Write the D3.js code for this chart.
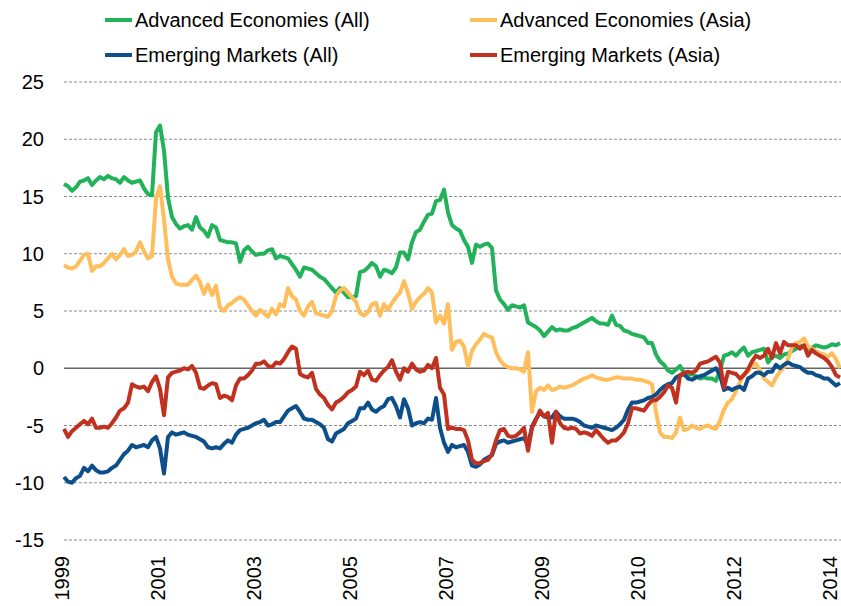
<!DOCTYPE html>
<html>
<head>
<meta charset="utf-8">
<script src="https://cdn.jsdelivr.net/npm/d3@7"></script>
<style>
    body { margin: 0; background: #fff; }
    text { font-family: "Liberation Sans", Arial, sans-serif; fill: #000; }
</style>
</head>
<body>
<div id="chart"></div>
<script>

// weekly-ish readings, one value every sample step
var advAll = [
    16.1, 15.9, 15.5, 15.8, 16.3, 16.4, 16.6, 16.0, 16.4, 16.7, 16.5, 16.8, 16.6, 16.5, 16.2, 16.7, 16.4, 16.2, 16.3, 16.4,
    15.7, 15.2, 15.1, 20.6, 21.2, 19.0, 14.9, 13.2, 12.6, 12.2, 12.4, 12.5, 12.1, 13.2, 12.3, 12.0, 11.5, 12.5, 12.3, 11.2,
    11.1, 11.0, 11.0, 10.9, 9.3, 10.3, 10.6, 10.2, 9.9, 10.0, 10.0, 10.3, 10.4, 9.6, 9.8, 9.7, 9.6, 9.1, 8.6, 8.0,
    8.8, 8.7, 8.6, 8.3, 8.0, 7.8, 7.4, 7.0, 6.6, 7.0, 6.6, 6.2, 6.2, 6.3, 8.4, 8.5, 8.8, 9.2, 8.9, 8.0,
    8.6, 8.5, 8.3, 8.8, 10.1, 10.1, 9.5, 11.0, 11.9, 12.1, 12.8, 13.4, 13.5, 14.6, 14.7, 15.6, 13.6, 12.5, 12.2, 12.0,
    11.2, 10.6, 9.2, 10.8, 10.6, 10.8, 10.9, 10.5, 6.8, 6.0, 5.6, 5.1, 5.5, 5.4, 5.3, 5.5, 4.0, 3.8, 3.6, 3.3,
    2.8, 3.2, 3.6, 3.3, 3.4, 3.3, 3.3, 3.5, 3.6, 3.8, 4.0, 4.2, 4.4, 4.1, 3.9, 3.9, 3.8, 4.6, 3.8, 3.7,
    3.3, 3.2, 3.0, 2.9, 2.8, 2.7, 2.2, 2.2, 1.2, 0.6, 0.3, -0.2, -0.4, -0.1, 0.2, -0.4, -0.6, -0.5, -0.7, -0.9,
    -0.8, -0.9, -0.9, -1.1, -0.2, 1.1, 1.2, 1.4, 1.1, 1.5, 1.8, 1.1, 1.4, 1.5, 1.6, 1.7, 0.5, 1.0, 1.1, 0.9,
    1.2, 1.3, 1.5, 1.7, 1.9, 2.0, 1.7, 1.8, 2.0, 1.9, 1.8, 1.9, 2.1, 2.0, 2.2
];

var advAsia = [
    9.0, 8.8, 8.7, 8.9, 9.4, 9.9, 10.0, 8.5, 8.9, 8.9, 9.2, 9.6, 10.0, 9.5, 9.9, 10.4, 9.8, 9.9, 10.2, 11.0,
    10.2, 9.6, 9.8, 14.8, 15.9, 13.0, 9.5, 8.0, 7.4, 7.3, 7.3, 7.3, 7.7, 8.1, 7.5, 6.5, 7.3, 6.4, 7.2, 5.3,
    5.0, 5.5, 5.7, 6.0, 6.2, 6.0, 5.5, 5.0, 4.6, 5.1, 4.8, 4.5, 5.2, 4.7, 5.6, 5.4, 7.0, 6.3, 6.0, 5.0,
    4.6, 5.4, 5.8, 4.8, 4.7, 4.6, 4.5, 5.0, 6.3, 6.8, 7.0, 6.6, 6.2, 5.8, 4.8, 4.6, 4.9, 5.6, 5.7, 4.6,
    5.6, 5.1, 5.7, 6.2, 6.6, 7.6, 6.6, 5.2, 5.8, 6.2, 6.5, 7.0, 6.6, 4.0, 4.6, 3.9, 5.6, 1.6, 2.3, 2.4,
    1.9, 0.2, 1.5, 2.1, 2.5, 3.0, 2.8, 2.7, 1.4, 0.7, 0.3, 0.1, 0.0, 0.0, -0.1, -0.3, 1.4, -3.8, -2.0, -1.7,
    -1.9, -1.5, -1.9, -1.8, -1.6, -1.7, -1.6, -1.5, -1.3, -1.1, -0.9, -0.8, -0.6, -0.8, -0.9, -1.0, -1.0, -0.9, -0.8, -0.8,
    -0.9, -0.9, -0.9, -1.0, -1.0, -1.1, -1.2, -1.4, -3.8, -5.6, -6.0, -6.0, -6.1, -5.6, -4.3, -5.4, -5.3, -5.0, -5.2, -5.3,
    -5.1, -5.0, -5.2, -5.3, -4.6, -3.6, -3.0, -2.7, -2.0, -1.2, -0.5, -0.3, 0.3, 0.4, -0.2, -0.9, -1.2, -1.5, -0.8, -0.3,
    0.1, 0.8, 1.9, 2.2, 2.3, 2.6, 1.9, 1.7, 1.5, 1.3, 1.2, 1.0, 1.3, 0.8, 0.0
];

var emAll = [
    -9.5, -9.9, -10.0, -9.6, -9.4, -8.7, -9.0, -8.5, -8.9, -9.1, -9.1, -9.0, -8.7, -8.5, -8.0, -7.5, -7.2, -6.7, -6.9, -6.8,
    -6.7, -6.9, -6.3, -6.0, -7.0, -9.2, -6.0, -5.6, -5.8, -5.7, -5.6, -5.8, -5.9, -6.0, -6.2, -6.4, -6.9, -7.0, -6.9, -7.0,
    -6.6, -6.3, -6.5, -5.8, -5.4, -5.3, -5.2, -5.0, -4.8, -4.7, -4.5, -5.0, -4.9, -4.7, -4.7, -4.2, -3.7, -3.5, -3.3, -3.8,
    -4.4, -4.5, -4.5, -4.7, -4.9, -5.2, -6.2, -6.4, -5.7, -5.5, -5.3, -4.8, -4.6, -4.4, -3.5, -3.5, -3.0, -3.6, -3.8, -3.5,
    -3.3, -2.7, -2.6, -3.3, -4.3, -2.7, -3.5, -5.0, -4.8, -4.7, -4.8, -4.4, -4.5, -2.6, -5.2, -6.5, -7.3, -6.7, -6.9, -6.8,
    -6.7, -7.3, -8.5, -8.6, -8.4, -8.0, -7.8, -7.6, -6.6, -6.4, -6.3, -6.5, -6.4, -6.3, -6.2, -6.1, -6.7, -5.1, -4.4, -3.9,
    -4.2, -4.3, -4.3, -3.8, -4.2, -4.4, -4.4, -4.4, -4.5, -4.7, -5.0, -5.1, -5.2, -5.0, -5.1, -5.2, -5.3, -5.4, -5.2, -4.9,
    -4.5, -3.6, -3.0, -3.0, -2.9, -2.8, -2.6, -2.5, -2.3, -1.9, -1.6, -1.4, -1.3, -0.8, -0.6, -0.5, -0.9, -1.0, -0.8, -0.7,
    -0.6, -0.4, -0.2, 0.0, -0.6, -1.9, -1.7, -1.9, -1.7, -1.6, -1.9, -0.9, -0.7, -0.4, -0.4, -0.6, -0.3, -0.3, 0.3, 0.0,
    0.3, 0.5, 0.3, 0.2, 0.1, -0.2, -0.4, -0.4, -0.6, -0.7, -0.9, -0.9, -1.2, -1.5, -1.3
];

var emAsia = [
    -5.3, -6.0, -5.5, -5.2, -4.9, -4.6, -4.9, -4.4, -5.2, -5.2, -5.1, -5.2, -4.8, -4.3, -3.7, -3.5, -3.0, -1.4, -1.6, -1.7,
    -1.6, -2.0, -1.2, -0.7, -1.8, -4.1, -0.8, -0.4, -0.3, -0.2, 0.0, -0.1, 0.2, -0.4, -1.7, -1.8, -1.5, -1.3, -1.4, -2.6,
    -2.4, -2.5, -2.8, -1.5, -0.9, -0.9, -0.6, -0.2, 0.4, 0.4, 0.6, 0.2, 0.1, 0.5, 0.4, 0.8, 1.4, 1.9, 1.7, -0.5,
    -0.7, -0.8, -0.4, -1.8, -2.3, -2.6, -3.2, -3.6, -3.0, -2.8, -2.5, -2.1, -1.9, -1.6, -0.3, -0.6, -0.2, -1.0, -1.1, -0.6,
    -0.2, 0.1, 0.7, -0.3, -1.0, 0.0, -0.3, 0.4, -0.1, -0.3, -0.2, 0.3, 0.0, 0.9, -1.7, -2.3, -5.3, -5.2, -5.3, -5.3,
    -5.4, -6.3, -8.0, -8.3, -8.3, -8.1, -8.0, -7.5, -6.3, -5.4, -5.3, -5.9, -6.0, -5.9, -5.6, -5.2, -7.2, -5.2, -4.5, -3.7,
    -4.2, -3.9, -6.5, -3.8, -4.8, -5.2, -5.3, -5.2, -5.3, -5.7, -5.6, -5.7, -5.9, -5.4, -5.8, -6.2, -6.5, -6.3, -6.3, -6.0,
    -5.6, -4.8, -3.5, -3.5, -3.6, -3.7, -3.2, -2.8, -2.8, -2.5, -2.1, -1.5, -1.7, -3.0, -0.6, -0.4, -0.3, -0.4, -0.2, 0.4,
    0.5, 0.6, 0.8, 1.0, 0.5, -1.7, -0.3, -0.4, -0.5, -0.9, -0.6, -0.1, 0.6, 1.1, 0.9, 1.1, 1.7, 0.9, 2.2, 1.3,
    2.3, 2.0, 2.0, 2.0, 1.7, 2.0, 1.1, 1.6, 1.3, 1.1, 0.9, 0.6, 0.1, -0.6, -0.8
];

var seriesNames = ["Advanced Economies (All)", "Advanced Economies (Asia)", "Emerging Markets (All)", "Emerging Markets (Asia)"];
var seriesColors = ["#21b25a", "#ffbe5c", "#0c4f8b", "#c1311f"];

var yTicks = [-15, -10, -5, 0, 5, 10, 15, 20, 25];
var xTickLabels = ["1999", "2001", "2003", "2005", "2007", "2009", "2010", "2012", "2014"];
var xTickIndex = [0, 24, 48, 72, 96, 120, 144, 168, 192];

var width = 841, height = 606;

var svg = d3.select("#chart")
    .append("svg")
    .attr("width", width)
    .attr("height", height);

svg.append("rect").attr("width", width).attr("height", height).attr("fill", "#fff");

var x = d3.scaleLinear()
    .domain([0, advAll.length - 1])
    .range([64, 840]);

var y = d3.scaleLinear()
    .domain([-15, 25])
    .range([540, 82]);

// gridlines
svg.append("g")
    .selectAll("line")
    .data(yTicks)
    .enter().append("line")
    .attr("x1", 64)
    .attr("x2", width)
    .attr("y1", function(d){ return y(d); })
    .attr("y2", function(d){ return y(d); })
    .attr("stroke", function(d){ return d === 0 ? "#666" : "#8c8c8c"; })
    .attr("stroke-width", function(d){ return d === 0 ? 1.6 : 1; })
    .attr("stroke-dasharray", function(d){ return d === 0 ? null : "3,2"; });

// y labels
svg.append("g")
    .selectAll("text")
    .data(yTicks)
    .enter().append("text")
    .attr("x", 44)
    .attr("y", function(d){ return y(d); })
    .attr("dy", "0.35em")
    .attr("text-anchor", "end")
    .style("font-size", "20px")
    .text(function(d){ return d; });

// x labels, rotated
svg.append("g")
    .selectAll("text")
    .data(xTickLabels)
    .enter().append("text")
    .attr("transform", function(d, i){ return "translate(" + (x(xTickIndex[i]) - 2) + ",556) rotate(-90)"; })
    .attr("dy", "0.35em")
    .attr("text-anchor", "end")
    .style("font-size", "20px")
    .text(function(d){ return d; });

var line = d3.line()
    .x(function(d, i){ return x(i); })
    .y(function(d){ return y(d); });

var allSeries = [advAll, advAsia, emAll, emAsia];

svg.append("g")
    .selectAll("path")
    .data(allSeries)
    .enter().append("path")
    .attr("d", line)
    .attr("fill", "none")
    .attr("stroke", function(d, i){ return seriesColors[i]; })
    .attr("stroke-width", 4)
    .attr("stroke-linejoin", "round");

// legend, two columns
var legend = svg.append("g")
    .selectAll("g")
    .data(seriesNames)
    .enter().append("g")
    .attr("transform", function(d, i){
        return "translate(" + (i % 2 === 0 ? 105 : 470) + "," + (i < 2 ? 20 : 55) + ")";
    });

legend.append("line")
    .attr("x1", 0).attr("x2", 27)
    .attr("stroke", function(d, i){ return seriesColors[i]; })
    .attr("stroke-width", 4);

legend.append("text")
    .attr("x", 30)
    .attr("dy", "0.35em")
    .style("font-size", "20px")
    .text(function(d){ return d; });

</script>
</body>
</html>
